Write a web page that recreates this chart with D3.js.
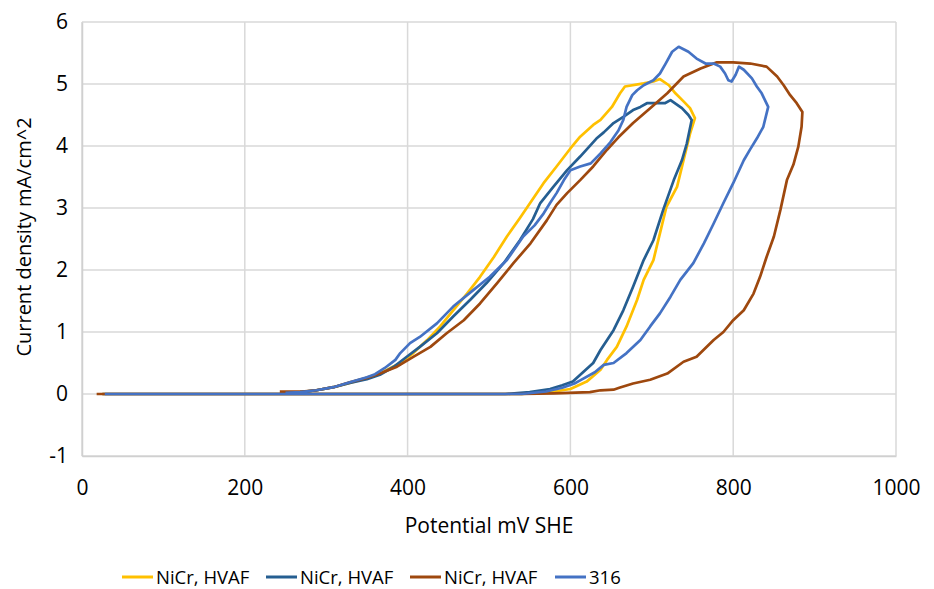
<!DOCTYPE html>
<html>
<head>
<meta charset="utf-8">
<script src="https://cdn.jsdelivr.net/npm/d3@7"></script>
<style>
  body { margin: 0; background: #fff; }
  text { font-family: "Open Sans", "Noto Sans", sans-serif; fill: #000; }
</style>
</head>
<body>
<svg id="drawing_region"></svg>
<script>
// potential (mV SHE), current density (mA/cm^2)
const nicr1 = [[25,0],[540,0],[570,0.02],[600,0.08],[620,0.2],[637,0.39],[645,0.55],[657,0.76],[669,1.09],[682,1.52],[690,1.84],[702,2.16],[710,2.59],[718,3.02],[731,3.34],[739,3.77],[747,4.2],[753,4.45],[747,4.61],[739,4.72],[729,4.85],[721,4.98],[710,5.08],[702,5.04],[690,5.01],[667,4.96],[661,4.85],[651,4.63],[637,4.42],[628,4.34],[612,4.15],[600,3.96],[583,3.67],[567,3.4],[553,3.13],[538,2.84],[522,2.54],[506,2.21],[489,1.89],[473,1.62],[456,1.35],[440,1.09],[424,0.87],[407,0.66],[391,0.5],[375,0.39],[360,0.3],[345,0.24],[329,0.18],[309,0.11],[288,0.06],[268,0.03],[250,0.02]];

const nicr2 = [[25,0],[520,0],[550,0.03],[575,0.08],[590,0.14],[603,0.2],[628,0.5],[637,0.71],[653,1.03],[665,1.35],[677,1.73],[690,2.16],[702,2.48],[714,2.97],[727,3.45],[737,3.77],[743,4.04],[749,4.42],[745,4.5],[737,4.61],[723,4.74],[716,4.69],[706,4.69],[694,4.69],[686,4.63],[677,4.58],[665,4.47],[653,4.37],[641,4.22],[632,4.12],[612,3.83],[596,3.61],[579,3.34],[563,3.08],[554,2.82],[538,2.48],[518,2.11],[497,1.79],[477,1.52],[456,1.25],[436,0.98],[415,0.76],[399,0.6],[383,0.44],[366,0.31],[350,0.24],[329,0.18],[309,0.11],[288,0.06],[268,0.03],[255,0.02]];

const nicr3 = [[18,0],[28,0],[540,0],[580,0.01],[624,0.03],[637,0.06],[653,0.07],[660,0.1],[677,0.17],[698,0.23],[719,0.33],[739,0.52],[755,0.6],[776,0.87],[788,1.0],[800,1.19],[813,1.35],[825,1.62],[833,1.89],[841,2.21],[850,2.54],[858,2.97],[866,3.45],[874,3.7],[880,3.99],[884,4.31],[885,4.55],[878,4.69],[870,4.82],[862,4.98],[854,5.12],[841,5.28],[821,5.33],[800,5.35],[780,5.35],[760,5.25],[739,5.12],[719,4.85],[698,4.61],[677,4.37],[659,4.14],[645,3.94],[628,3.67],[612,3.45],[596,3.24],[583,3.05],[571,2.8],[551,2.43],[530,2.11],[510,1.79],[489,1.46],[469,1.19],[448,0.98],[428,0.76],[407,0.6],[387,0.44],[366,0.33],[350,0.26],[329,0.19],[309,0.11],[288,0.06],[270,0.04],[243,0.04]];

const ss316 = [[28,0],[540,0],[570,0.04],[590,0.1],[605,0.17],[612,0.22],[630,0.35],[641,0.47],[653,0.5],[669,0.66],[686,0.87],[698,1.09],[710,1.3],[723,1.57],[735,1.84],[751,2.11],[764,2.43],[776,2.75],[788,3.08],[800,3.4],[813,3.77],[821,3.95],[829,4.12],[837,4.31],[843,4.63],[839,4.74],[835,4.85],[829,4.96],[823,5.09],[813,5.23],[807,5.28],[803,5.15],[798,5.04],[794,5.06],[790,5.17],[784,5.28],[776,5.33],[766,5.33],[755,5.41],[745,5.52],[733,5.6],[725,5.52],[717,5.33],[710,5.17],[702,5.06],[690,4.98],[682,4.9],[676,4.82],[669,4.63],[665,4.42],[659,4.25],[649,4.06],[637,3.88],[625,3.72],[612,3.67],[600,3.61],[592,3.45],[583,3.24],[575,3.08],[567,2.91],[556,2.72],[542,2.54],[522,2.16],[501,1.89],[481,1.68],[456,1.41],[436,1.14],[415,0.92],[403,0.82],[391,0.66],[385,0.55],[372,0.42],[360,0.32],[350,0.27],[329,0.19],[309,0.11],[288,0.06],[268,0.03],[250,0.02]];

const seriesNames = ["NiCr, HVAF", "NiCr, HVAF", "NiCr, HVAF", "316"];
const seriesColors = ["#FFC000", "#255E91", "#9E480E", "#4472C4"];
const xTicks = [0, 200, 400, 600, 800, 1000];
const yTicks = [-1, 0, 1, 2, 3, 4, 5, 6];

const allSeries = [nicr1, nicr2, nicr3, ss316];

const width = 934, height = 589;
const margin = {top: 22, right: 38, bottom: 133, left: 82};
const innerW = width - margin.left - margin.right;
const innerH = height - margin.top - margin.bottom;

const svg = d3.select('#drawing_region')
    .attr('width', width)
    .attr('height', height);

const chart = svg.append('g')
    .attr('transform', `translate(${margin.left}, ${margin.top})`);

const xscale = d3.scaleLinear().domain([0, 1000]).range([0, innerW]);
const yscale = d3.scaleLinear().domain([-1, 6]).range([innerH, 0]);

// gridlines
chart.append('g')
    .selectAll('line')
    .data(yTicks)
    .join('line')
    .attr('x1', 0).attr('x2', innerW)
    .attr('y1', d => yscale(d)).attr('y2', d => yscale(d))
    .attr('stroke', '#d9d9d9').attr('stroke-width', 1.5);

chart.append('g')
    .selectAll('line')
    .data(xTicks)
    .join('line')
    .attr('y1', 0).attr('y2', innerH)
    .attr('x1', d => xscale(d)).attr('x2', d => xscale(d))
    .attr('stroke', '#d9d9d9').attr('stroke-width', 1.5);

// axes (labels only)
const fmt = d => String(d);
const xaxis = d3.axisBottom(xscale).tickValues(xTicks).tickFormat(fmt).tickSize(0).tickPadding(24);
const yaxis = d3.axisLeft(yscale).tickValues(yTicks).tickFormat(fmt).tickSize(0).tickPadding(14);

const xg = chart.append('g')
    .attr('transform', `translate(0, ${innerH})`)
    .call(xaxis);
const yg = chart.append('g').call(yaxis);

[xg, yg].forEach(g => {
    g.select('.domain').attr('stroke', '#d0d0d0').attr('stroke-width', 1.5);
    g.selectAll('text').style('font-size', '21px').attr('fill', '#000');
});

// curves
const line = d3.line()
    .x(d => xscale(d[0]))
    .y(d => yscale(d[1]));

chart.selectAll('path.curve')
    .data(allSeries)
    .join('path')
    .attr('class', 'curve')
    .attr('d', d => line(d))
    .attr('fill', 'none')
    .attr('stroke', (d, i) => seriesColors[i])
    .attr('stroke-width', 2.7)
    .attr('stroke-linejoin', 'round');

// axis titles
svg.append('text')
    .attr('x', margin.left + innerW / 2)
    .attr('y', 533)
    .attr('text-anchor', 'middle')
    .style('font-size', '21px')
    .text('Potential mV SHE');

svg.append('text')
    .attr('transform', `translate(31, ${margin.top + innerH / 2 - 2}) rotate(-90)`)
    .attr('text-anchor', 'middle')
    .style('font-size', '20px')
    .text('Current density mA/cm^2');

// legend
const legendX = [122, 266, 410, 555];
const legend = svg.append('g');
seriesNames.forEach((name, i) => {
    const g = legend.append('g').attr('transform', `translate(${legendX[i]}, 577)`);
    g.append('line')
        .attr('x1', 0).attr('x2', 31)
        .attr('stroke', seriesColors[i])
        .attr('stroke-width', 3);
    g.append('text')
        .attr('x', 34)
        .attr('y', 6.5)
        .style('font-size', '18.5px')
        .text(name);
});
</script>
</body>
</html>
